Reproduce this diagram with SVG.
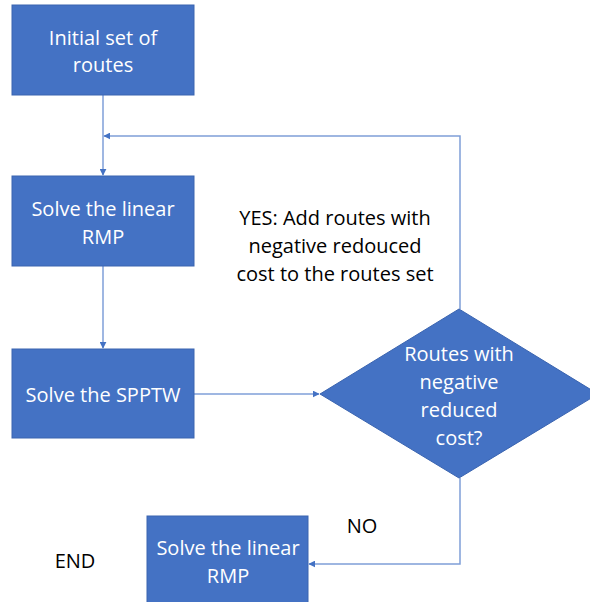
<svg xmlns="http://www.w3.org/2000/svg" width="590" height="602" viewBox="0 0 590 602">
  <style>
    .box { fill: #4472C4; stroke: #3A64B0; stroke-width: 1; }
    .lbl { font-family: "Open Sans", "Liberation Sans", sans-serif; font-size: 20px; fill: #FFFFFF; text-anchor: middle; dominant-baseline: central; }
    .note { font-family: "Open Sans", "Liberation Sans", sans-serif; font-size: 20px; fill: #000000; text-anchor: middle; dominant-baseline: central; }
    .edge { fill: none; stroke: #7F9FD8; stroke-width: 1.5; }
  </style>
  <defs>
    <marker id="arrow" viewBox="0 0 10 10" refX="9" refY="5" markerWidth="7" markerHeight="7" markerUnits="userSpaceOnUse" orient="auto">
      <path d="M0,0 L10,5 L0,10 z" fill="#4472C4"/>
    </marker>
  </defs>
  <rect width="590" height="602" fill="#FFFFFF"/>

  <g id="connectors">
    <path class="edge" d="M103,95 V175" marker-end="url(#arrow)"/>
    <path class="edge" d="M460,309 V136 H104" marker-end="url(#arrow)"/>
    <path class="edge" d="M103,266 V348" marker-end="url(#arrow)"/>
    <path class="edge" d="M194,394 H319" marker-end="url(#arrow)"/>
    <path class="edge" d="M460,478 V564 H309" marker-end="url(#arrow)"/>
  </g>

  <g id="initial-routes">
    <rect class="box" x="12" y="5" width="182" height="90"/>
    <text class="lbl" x="103" y="37">Initial set of</text>
    <text class="lbl" x="103" y="64">routes</text>
  </g>

  <g id="solve-rmp">
    <rect class="box" x="12" y="176" width="182" height="90"/>
    <text class="lbl" x="103" y="208">Solve the linear</text>
    <text class="lbl" x="103" y="236">RMP</text>
  </g>

  <g id="solve-spptw">
    <rect class="box" x="12" y="349" width="182" height="89"/>
    <text class="lbl" x="103" y="394">Solve the SPPTW</text>
  </g>

  <g id="negative-cost-check">
    <polygon class="box" points="320,394 459,309 598,394 459,478"/>
    <text class="lbl" x="459" y="353">Routes with</text>
    <text class="lbl" x="459" y="381">negative</text>
    <text class="lbl" x="459" y="409">reduced</text>
    <text class="lbl" x="459" y="437">cost?</text>
  </g>

  <g id="yes-label">
    <text class="note" x="335" y="217">YES: Add routes with</text>
    <text class="note" x="335" y="245">negative redouced</text>
    <text class="note" x="335" y="273">cost to the routes set</text>
  </g>

  <g id="no-label">
    <text class="note" x="362" y="525">NO</text>
  </g>

  <g id="final-rmp">
    <rect class="box" x="147" y="516" width="161" height="90"/>
    <text class="lbl" x="228" y="547">Solve the linear</text>
    <text class="lbl" x="228" y="575">RMP</text>
  </g>

  <g id="end-label">
    <text class="note" x="75" y="560">END</text>
  </g>
</svg>
